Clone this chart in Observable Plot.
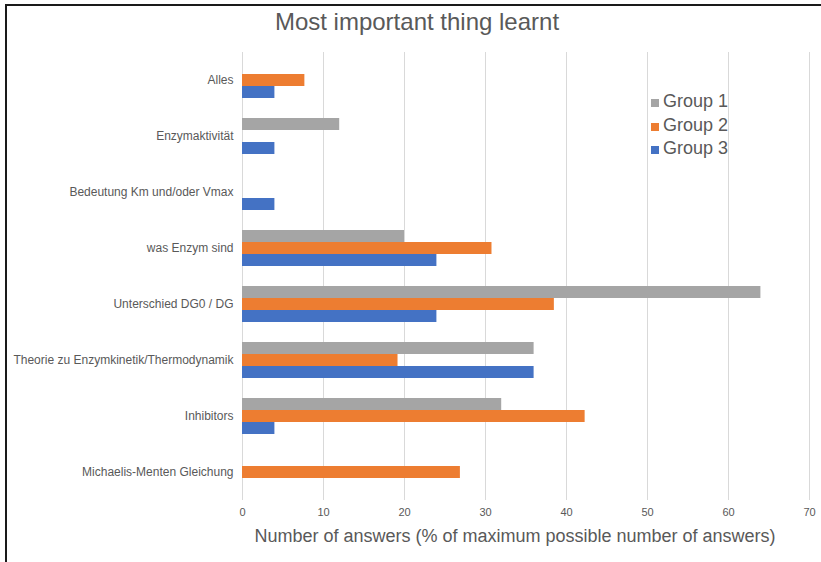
<!DOCTYPE html>
<html>
<head>
<meta charset="utf-8">
<script src="https://cdn.jsdelivr.net/npm/d3@7"></script>
<script src="https://cdn.jsdelivr.net/npm/@observablehq/plot@0.6"></script>
<style>
  html, body { margin: 0; padding: 0; background: #fff; overflow: hidden; }
  #chart {
    position: relative; width: 821px; height: 562px; overflow: hidden;
    font-family: "Liberation Sans", Arial, Helvetica, sans-serif; color: #595959;
  }
  #frame {
    position: absolute; left: 5px; top: 4px; width: 900px; height: 700px;
    border-top: 2px solid #1a1a1a; border-left: 2px solid #1a1a1a;
  }
  #title {
    position: absolute; left: 0; width: 834px; top: 8px;
    text-align: center; font-size: 24px; white-space: nowrap;
  }
  #xlabel {
    position: absolute; left: 515px; top: 526px; transform: translateX(-50%);
    font-size: 18px; white-space: nowrap;
  }
  #legend { position: absolute; left: 651px; top: 91px; font-size: 18px; }
  #legend .row { display: flex; align-items: baseline; height: 23.5px; }
  #legend .sw { display: inline-block; width: 8px; height: 8px; margin-right: 4px; }
  #plot svg { position: absolute; left: 0; top: 0; }
</style>
</head>
<body>
<div id="chart">
  <div id="plot"></div>
  <div id="frame"></div>
  <div id="title"></div>
  <div id="xlabel"></div>
  <div id="legend"></div>
</div>
<script>
// Answer categories (top to bottom)
const categories = [
  "Alles",
  "Enzymaktivität",
  "Bedeutung Km und/oder Vmax",
  "was Enzym sind",
  "Unterschied DG0 / DG",
  "Theorie zu Enzymkinetik/Thermodynamik",
  "Inhibitors",
  "Michaelis-Menten Gleichung"
];

// Share of answers per group (% of maximum possible number of answers)
const group1 = [0, 12, 0, 20, 64, 36, 32, 0];
const group2 = [7.7, 0, 0, 30.8, 38.5, 19.2, 42.3, 26.9];
const group3 = [4, 4, 4, 24, 24, 36, 4, 0];

const groups = ["Group 1", "Group 2", "Group 3"];
const colors = ["#A5A5A5", "#ED7D31", "#4472C4"];

const xTicks = [0, 10, 20, 30, 40, 50, 60, 70];
const titleText = "Most important thing learnt";
const xLabelText = "Number of answers (% of maximum possible number of answers)";

// Long-format table for the grouped bars
const series = [group1, group2, group3];
const data = [];
categories.forEach((c, i) => {
  series.forEach((s, g) => {
    if (s[i] > 0) data.push({category: c, group: groups[g], value: s[i]});
  });
});

const chart = Plot.plot({
  width: 821,
  height: 562,
  marginTop: 52,
  marginBottom: 62,
  marginLeft: 242,
  marginRight: 12,
  style: {
    fontFamily: '"Liberation Sans", Arial, Helvetica, sans-serif',
    fontSize: "11px",
    color: "#595959",
    background: "transparent"
  },
  x: {domain: [0, 70]},
  y: {domain: groups, axis: null, paddingInner: 0, paddingOuter: 0.75},
  fy: {domain: categories, padding: 0, label: null},
  color: {domain: groups, range: colors},
  marks: [
    Plot.gridX(xTicks, {stroke: "#d9d9d9", strokeOpacity: 1, strokeWidth: 1}),
    Plot.barX(data, {x: "value", y: "group", fy: "category", fill: "group"}),
    Plot.axisX(xTicks, {tickSize: 0, tickPadding: 8, label: null, fontSize: 11}),
    Plot.axisFy({anchor: "left", tickSize: 0, tickPadding: 9, label: null, fontSize: 12})
  ]
});
document.getElementById("plot").appendChild(chart);

document.getElementById("title").textContent = titleText;
document.getElementById("xlabel").textContent = xLabelText;

// Legend
const legend = document.getElementById("legend");
groups.forEach((g, i) => {
  const row = document.createElement("div");
  row.className = "row";
  const sw = document.createElement("span");
  sw.className = "sw";
  sw.style.background = colors[i];
  const label = document.createElement("span");
  label.textContent = g;
  row.appendChild(sw);
  row.appendChild(label);
  legend.appendChild(row);
});
</script>
</body>
</html>
